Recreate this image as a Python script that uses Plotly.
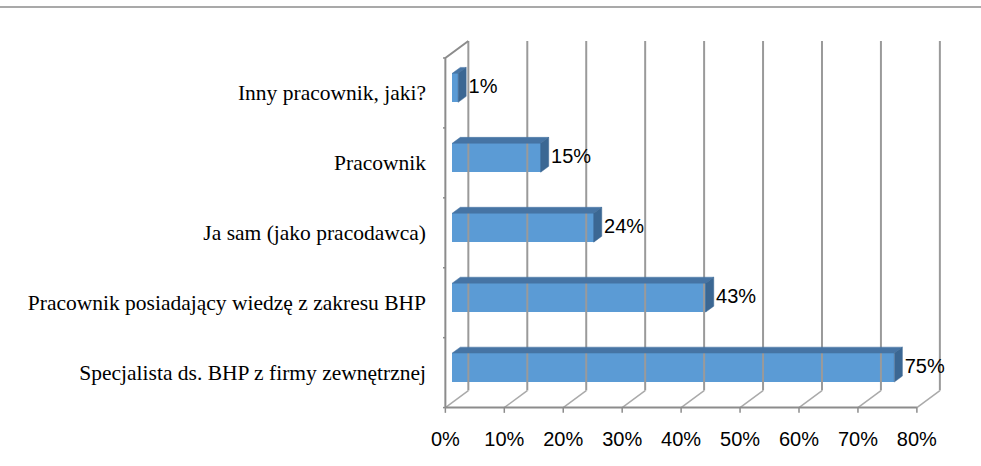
import plotly.graph_objects as go

categories = [
    "Specjalista ds. BHP z firmy zewnętrznej",
    "Pracownik posiadający wiedzę z zakresu BHP",
    "Ja sam (jako pracodawca)",
    "Pracownik",
    "Inny pracownik, jaki?",
]
values = [75, 43, 24, 15, 1]
tick_values = [0, 10, 20, 30, 40, 50, 60, 70, 80]
tick_labels = [f"{v}%" for v in tick_values]

# 3D geometry (data units)
DX = 3.9      # depth shift in x (% units)
DY = 0.243    # depth shift in y (category units)
F0, F1 = 0.30, 0.65   # bar front/back depth fractions
HW = 0.207            # half bar thickness

FRONT = "#5B9BD5"
TOP = "#4674A4"
SIDE = "#3B6793"
GRID = "#9A9A9A"

fig = go.Figure()

n = len(categories)
ymin, ymax = -0.5, n - 0.5

# back wall grid lines + floor diagonals
gx, gy, fx, fy = [], [], [], []
for v in tick_values:
    gx += [v + DX, v + DX, None]
    gy += [ymin + DY, ymax + DY, None]
    fx += [v, v + DX, None]
    fy += [ymin, ymin + DY, None]
fig.add_trace(go.Scatter(x=gx, y=gy, mode="lines", line=dict(color=GRID, width=2),
                         hoverinfo="skip", showlegend=False, cliponaxis=False))
fig.add_trace(go.Scatter(x=fx, y=fy, mode="lines", line=dict(color="#AAAAAA", width=1.5),
                         hoverinfo="skip", showlegend=False, cliponaxis=False))

# left side wall: front axis + top diagonal
fig.add_trace(go.Scatter(x=[0, 0, DX], y=[ymin, ymax, ymax + DY], mode="lines",
                         line=dict(color="#8C8C8C", width=2), hoverinfo="skip",
                         showlegend=False, cliponaxis=False))
# front floor axis
fig.add_trace(go.Scatter(x=[0, tick_values[-1]], y=[ymin, ymin], mode="lines",
                         line=dict(color="#8C8C8C", width=2), hoverinfo="skip",
                         showlegend=False, cliponaxis=False))
# x tick marks
tx, ty = [], []
for v in tick_values:
    tx += [v, v, None]
    ty += [ymin, ymin - 0.075, None]
fig.add_trace(go.Scatter(x=tx, y=ty, mode="lines", line=dict(color="#8C8C8C", width=1.5),
                         hoverinfo="skip", showlegend=False, cliponaxis=False))
# y tick marks at category boundaries
lx, ly = [], []
for k in range(n + 1):
    lx += [0, -0.75, None]
    ly += [ymin + k, ymin + k, None]
fig.add_trace(go.Scatter(x=lx, y=ly, mode="lines", line=dict(color="#8C8C8C", width=1.5),
                         hoverinfo="skip", showlegend=False, cliponaxis=False))

ox0, oy0 = F0 * DX, F0 * DY
ox1, oy1 = F1 * DX, F1 * DY
ddx, ddy = ox1 - ox0, oy1 - oy0
ypos = [i + oy0 for i in range(n)]

# front faces
fig.add_trace(go.Bar(orientation="h", x=values, y=ypos, base=ox0, width=2 * HW,
                     marker=dict(color=FRONT, line=dict(width=0)),
                     hoverinfo="skip", showlegend=False))

# top and side faces
for v, yc in zip(values, ypos):
    yt, yb = yc + HW, yc - HW
    x0, x1 = ox0, ox0 + v
    fig.add_trace(go.Scatter(x=[x0, x1, x1 + ddx, x0 + ddx, x0],
                             y=[yt, yt, yt + ddy, yt + ddy, yt],
                             fill="toself", fillcolor=TOP, mode="lines",
                             line=dict(color=TOP, width=0.5),
                             hoverinfo="skip", showlegend=False))
    fig.add_trace(go.Scatter(x=[x1, x1 + ddx, x1 + ddx, x1, x1],
                             y=[yb, yb + ddy, yt + ddy, yt, yb],
                             fill="toself", fillcolor=SIDE, mode="lines",
                             line=dict(color=SIDE, width=0.5),
                             hoverinfo="skip", showlegend=False))

# data labels
fig.add_trace(go.Scatter(x=[v + ox1 + 0.4 for v in values], y=list(ypos),
                         mode="text", text=[f"{v}%" for v in values],
                         textposition="middle right",
                         textfont=dict(family="Liberation Sans", size=20, color="#000000"),
                         hoverinfo="skip", showlegend=False, cliponaxis=False))

L, T = 443, 37
xr = [-0.4, 84.6]
yr = [-0.62, 4.8]
pw = (xr[1] - xr[0]) * 5.89
ph = (yr[1] - yr[0]) * 70
R = 981 - L - pw
B = 466 - T - ph

fig.update_layout(
    width=981, height=466,
    margin=dict(l=L, r=R, t=T, b=B),
    paper_bgcolor="white", plot_bgcolor="white",
    bargap=0,
    xaxis=dict(range=xr, tickvals=tick_values, ticktext=tick_labels,
               showgrid=False, zeroline=False, showline=False, ticks="",
               ticklabelstandoff=9,
               tickfont=dict(family="Liberation Sans", size=20, color="#000000")),
    yaxis=dict(range=yr, tickvals=list(range(n)), ticktext=categories,
               showgrid=False, zeroline=False, showline=False, ticks="",
               ticklabelstandoff=16,
               tickfont=dict(family="Liberation Serif", size=21.5, color="#000000")),
    shapes=[dict(type="line", xref="paper", yref="paper",
                 x0=-L / pw, x1=(981 - L) / pw,
                 y0=1 + (T - 7) / ph, y1=1 + (T - 7) / ph,
                 line=dict(color="#8C8C8C", width=1.5))],
)

fig.write_html("out.html", config={"displayModeBar": False},
               post_script="document.body.style.margin='0';")
